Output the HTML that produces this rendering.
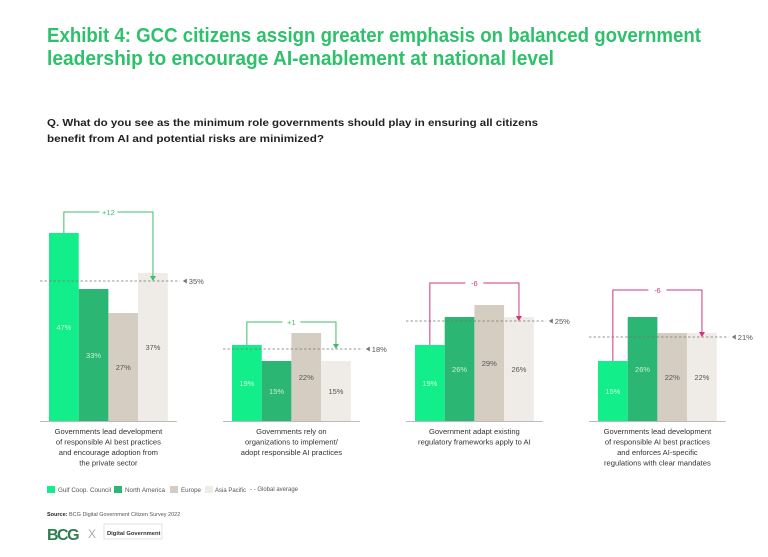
<!DOCTYPE html>
<html><head><meta charset="utf-8"><style>
body{margin:0;background:#fff;width:768px;height:557px;overflow:hidden;font-family:"Liberation Sans",sans-serif}
svg{display:block}
.n{font-family:"Liberation Sans Narrow","Liberation Sans",sans-serif}
</style></head><body>
<svg id="c" width="768" height="557" xmlns="http://www.w3.org/2000/svg">
<text class="n" x="47" y="42" font-size="20" font-weight="bold" fill="#2ec16b" textLength="654" lengthAdjust="spacingAndGlyphs">Exhibit 4: GCC citizens assign greater emphasis on balanced government</text>
<text class="n" x="47" y="65" font-size="20" font-weight="bold" fill="#2ec16b" textLength="507" lengthAdjust="spacingAndGlyphs">leadership to encourage AI-enablement at national level</text>
<text class="n" x="47" y="126" font-size="10.5" font-weight="bold" fill="#222" textLength="491" lengthAdjust="spacingAndGlyphs">Q. What do you see as the minimum role governments should play in ensuring all citizens</text>
<text class="n" x="47" y="142" font-size="10.5" font-weight="bold" fill="#222" textLength="277" lengthAdjust="spacingAndGlyphs">benefit from AI and potential risks are minimized?</text>
<g id="plot"></g>
<g font-size="6" fill="#555">
<rect x="47" y="486" width="8" height="7" fill="#12ee8a"/><text x="58" y="492" textLength="53" lengthAdjust="spacingAndGlyphs">Gulf Coop. Council</text>
<rect x="114" y="486" width="8" height="7" fill="#2bb673"/><text x="125" y="492" textLength="40" lengthAdjust="spacingAndGlyphs">North America</text>
<rect x="170" y="486" width="8" height="7" fill="#d5cdc2"/><text x="181" y="492" textLength="20" lengthAdjust="spacingAndGlyphs">Europe</text>
<rect x="205" y="486" width="8" height="7" fill="#efebe7"/><text x="215" y="492" textLength="31" lengthAdjust="spacingAndGlyphs">Asia Pacific</text>
<text x="250" y="491" textLength="48" lengthAdjust="spacingAndGlyphs">- -  Global average</text>
</g>
<text x="47" y="516" font-size="5.5" fill="#555"><tspan font-weight="bold" fill="#222">Source:</tspan> BCG Digital Government Citizen Survey 2022</text>
<text x="47" y="540" font-size="16" font-weight="bold" fill="#2e7d4f" letter-spacing="-1.5">BCG</text>
<text x="88" y="538" font-size="12" fill="#aaa">X</text>
<rect x="104" y="524" width="58" height="15" fill="none" stroke="#ccc" stroke-width="0.6"/>
<text x="107" y="535" font-size="5.8" font-weight="bold" fill="#333">Digital Government</text>
</svg>
<script>
const categories=["Governments lead development|of responsible AI best practices|and encourage adoption from|the private sector","Governments rely on|organizations to implement/|adopt responsible AI practices","Government adapt existing|regulatory frameworks apply to AI","Governments lead development|of responsible AI best practices|and enforces AI-specific|regulations with clear mandates"];
const gcc=[47,19,19,15];
const northAmerica=[33,15,26,26];
const europe=[27,22,29,22];
const asiaPacific=[37,15,26,22];
const globalAvg=[35,18,25,21];
const deltaLabels=["+12","+1","-6","-6"];
const groupX=[49,232,415,598];
const bracketGap=[21,11,22,27];
const base=421,k=4.0,bw=29.7;
const y=v=>base-v*k;
const colors=["#12ee8a","#2bb673","#d5cdc2","#efebe7"];
const tcol=["#c8ffe0","#c8f0d8","#555","#555"];
const ns="http://www.w3.org/2000/svg";
const g=document.getElementById("plot");
function mk(t,a,p){const e=document.createElementNS(ns,t);for(const q in a)e.setAttribute(q,a[q]);(p||g).appendChild(e);return e;}
const series=[gcc,northAmerica,europe,asiaPacific];
categories.forEach((c,i)=>{
  const x0=groupX[i];
  series.forEach((s,j)=>{
    const r=mk("rect",{x:x0+j*bw,y:y(s[i]),width:bw,height:s[i]*k,fill:colors[j]});
    
    
    const t=mk("text",{x:x0+j*bw+bw/2,y:(y(s[i])+base)/2+3,"text-anchor":"middle","font-size":"7.5",fill:tcol[j]});
    t.textContent=s[i]+"%";
  });
  const bl=mk("line",{x1:x0-9,x2:x0+4*bw+9,y1:base+0.5,y2:base+0.5,stroke:"#bbb","stroke-width":"1"});
  
  
  const ay=y(globalAvg[i]);
  const al=mk("line",{x1:x0-9,x2:x0+4*bw+12,y1:ay,y2:ay,stroke:"#777","stroke-width":"0.8","stroke-dasharray":"2.5,2"});
  
  
  const ax=x0+4*bw+15;
  mk("path",{d:`M${ax} ${ay} l4 -2.5 v5z`,fill:"#777"});
  const at=mk("text",{x:ax+6,y:ay+3,"font-size":"7.5",fill:"#555"});
  at.textContent=globalAvg[i]+"%";
  const col=deltaLabels[i][0]=="-"?"#d4357a":"#3cbf6c";
  const x1=x0+bw/2,x2=x0+3.5*bw;
  const top=Math.min(y(Math.max(gcc[i],europe[i],northAmerica[i],asiaPacific[i])),ay)-bracketGap[i];
  const br=mk("path",{d:`M${x1} ${y(gcc[i])} V${top} H${x2} V${ay-3}`,fill:"none",stroke:col,"stroke-width":"1"});
  
  
  mk("path",{d:`M${x2-3} ${ay-5} l3 5 l3 -5z`,fill:col});
  const mx=(x1+x2)/2;
  mk("rect",{x:mx-9,y:top-5,width:18,height:10,fill:"#fff"});
  const dt=mk("text",{x:mx,y:top+3,"text-anchor":"middle","font-size":"7.5",fill:col});
  dt.textContent=deltaLabels[i];
  c.split("|").forEach((ln,m)=>{
    const t=mk("text",{x:x0+2*bw,y:base+13+m*10.5,"text-anchor":"middle","font-size":"7.6",fill:"#333"});
    
    
    t.textContent=ln;
  });
});
</script>
</body></html>
